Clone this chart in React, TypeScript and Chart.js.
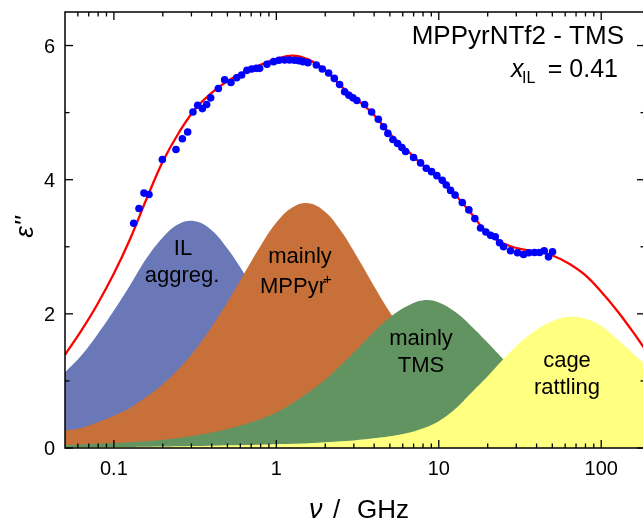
import React, { useEffect, useRef } from 'react';
import { Chart, registerables } from 'chart.js';

Chart.register(...registerables);

// Frequency grid (GHz) for the fitted band curves
const bandFreq = [0.05, 0.063, 0.079, 0.1, 0.126, 0.158, 0.2, 0.251, 0.316, 0.398, 0.501, 0.631, 0.794, 1, 1.26, 1.58, 2, 2.51, 3.16, 3.98, 5.01, 6.31, 7.94, 10, 12.6, 15.8, 20, 25.1, 31.6, 39.8, 50.1, 63.1, 79.4, 100, 126, 158, 186];

// "IL aggreg." band
const ilAggreg = [1.13, 1.38, 1.69, 2.05, 2.43, 2.82, 3.14, 3.34, 3.38, 3.25, 2.97, 2.61, 2.22, 1.85, 1.52, 1.23, 0.99, 0.79, 0.63, 0.5, 0.4, 0.32, 0.25, 0.2, 0.16, 0.13, 0.1, 0.08, 0.063, 0.05, 0.04, 0.032, 0.025, 0.02, 0.016, 0.013, 0.011];
// "mainly MPPyr+" band
const mppyr = [0.26, 0.3, 0.38, 0.48, 0.6, 0.76, 0.95, 1.18, 1.46, 1.8, 2.18, 2.59, 3.0, 3.36, 3.59, 3.65, 3.52, 3.23, 2.84, 2.42, 2.02, 1.66, 1.35, 1.08, 0.86, 0.69, 0.55, 0.44, 0.35, 0.28, 0.22, 0.175, 0.14, 0.11, 0.088, 0.07, 0.06];
// "mainly TMS" band
const tms = [0.045, 0.053, 0.062, 0.073, 0.086, 0.102, 0.123, 0.15, 0.185, 0.23, 0.285, 0.35, 0.43, 0.53, 0.67, 0.83, 1.02, 1.24, 1.48, 1.73, 1.95, 2.11, 2.2, 2.17, 2.03, 1.82, 1.57, 1.32, 1.09, 0.89, 0.71, 0.57, 0.46, 0.37, 0.29, 0.23, 0.2];
// "cage rattling" band
const cage = [0.01, 0.01, 0.012, 0.014, 0.016, 0.019, 0.022, 0.026, 0.03, 0.035, 0.04, 0.045, 0.05, 0.056, 0.063, 0.072, 0.085, 0.1, 0.12, 0.145, 0.175, 0.22, 0.29, 0.4, 0.58, 0.82, 1.07, 1.33, 1.57, 1.76, 1.89, 1.955, 1.93, 1.82, 1.62, 1.4, 1.25];
// total fit
const fitEps = [1.39, 1.75, 2.14, 2.6, 3.12, 3.7, 4.27, 4.7, 5.05, 5.29, 5.47, 5.6, 5.71, 5.8, 5.85, 5.79, 5.63, 5.39, 5.19, 4.97, 4.68, 4.45, 4.22, 4.02, 3.78, 3.5, 3.2, 3.05, 2.97, 2.93, 2.87, 2.75, 2.58, 2.33, 2.04, 1.72, 1.47];

// measured points
const dataFreq = [0.1324, 0.1427, 0.1532, 0.1644, 0.1988, 0.2411, 0.2639, 0.2845, 0.3067, 0.3279, 0.3504, 0.3725, 0.3942, 0.4395, 0.4806, 0.5256, 0.5696, 0.6114, 0.6593, 0.7047, 0.7532, 0.7892, 0.8752, 0.9625, 1.0375, 1.125, 1.207, 1.296, 1.377, 1.458, 1.565, 1.763, 1.919, 2.098, 2.275, 2.452, 2.633, 2.798, 2.961, 3.133, 3.494, 3.859, 4.244, 4.574, 4.861, 5.219, 5.579, 5.93, 6.249, 6.997, 7.727, 8.377, 9.031, 9.734, 10.51, 11.12, 11.82, 12.6, 13.95, 15.32, 16.68, 18.08, 19.49, 20.84, 22.27, 23.67, 25.05, 27.66, 30.54, 33.25, 35.85, 38.86, 41.72, 44.59, 47.39, 50.15];
const dataEps = [3.35, 3.57, 3.8, 3.78, 4.3, 4.45, 4.61, 4.71, 5.01, 5.11, 5.06, 5.12, 5.22, 5.36, 5.49, 5.45, 5.52, 5.56, 5.63, 5.65, 5.66, 5.66, 5.72, 5.76, 5.78, 5.785, 5.785, 5.78, 5.775, 5.76, 5.745, 5.71, 5.65, 5.59, 5.51, 5.42, 5.31, 5.26, 5.22, 5.18, 5.12, 5.01, 4.9, 4.79, 4.69, 4.6, 4.54, 4.48, 4.42, 4.33, 4.25, 4.17, 4.12, 4.06, 3.99, 3.92, 3.84, 3.77, 3.66, 3.55, 3.42, 3.28, 3.22, 3.17, 3.15, 3.06, 3.0, 2.94, 2.91, 2.885, 2.91, 2.915, 2.915, 2.94, 2.85, 2.925];

const xMajorTicks = [0.1, 1, 10, 100];
const xTickLabels = ['0.1', '1', '10', '100'];
const xMinorTicks = [0.06, 0.07, 0.08, 0.09, 0.2, 0.3, 0.4, 0.5, 0.6, 0.7, 0.8, 0.9, 2, 3, 4, 5, 6, 7, 8, 9, 20, 30, 40, 50, 60, 70, 80, 90];
const yMajorTicks = [0, 2, 4, 6];
const yTickLabels = ['0', '2', '4', '6'];
const yMinorTicks = [1, 3, 5];

const FONT = "'Liberation Sans', Arial, Helvetica, sans-serif";

const toPts = (xs: number[], ys: number[]) => xs.map((x, i) => ({ x, y: ys[i] }));

const decorPlugin = {
  id: 'decor',
  afterDraw(chart: any) {
    const { ctx, chartArea: a, scales } = chart;
    const xs = scales.x;
    const ys = scales.y;
    ctx.save();
    ctx.strokeStyle = '#000';
    ctx.lineWidth = 1.5;
    ctx.strokeRect(a.left, a.top, a.right - a.left, a.bottom - a.top);
    ctx.lineWidth = 1.3;
    const seg = (x1: number, y1: number, x2: number, y2: number) => {
      ctx.beginPath();
      ctx.moveTo(x1, y1);
      ctx.lineTo(x2, y2);
      ctx.stroke();
    };
    xMajorTicks.forEach((v) => {
      const x = xs.getPixelForValue(v);
      seg(x, a.bottom, x, a.bottom - 8);
      seg(x, a.top, x, a.top + 8);
    });
    xMinorTicks.forEach((v) => {
      const x = xs.getPixelForValue(v);
      seg(x, a.bottom, x, a.bottom - 4.5);
      seg(x, a.top, x, a.top + 4.5);
    });
    yMajorTicks.forEach((v) => {
      const y = ys.getPixelForValue(v);
      seg(a.left, y, a.left + 8, y);
      seg(a.right, y, a.right - 8, y);
    });
    yMinorTicks.forEach((v) => {
      const y = ys.getPixelForValue(v);
      seg(a.left, y, a.left + 4.5, y);
      seg(a.right, y, a.right - 4.5, y);
    });

    ctx.fillStyle = '#000';
    ctx.font = `20px ${FONT}`;
    ctx.textAlign = 'center';
    ctx.textBaseline = 'alphabetic';
    xMajorTicks.forEach((v, i) => {
      ctx.fillText(xTickLabels[i], xs.getPixelForValue(v), 475);
    });
    ctx.textAlign = 'right';
    yMajorTicks.forEach((v, i) => {
      ctx.fillText(yTickLabels[i], 55, ys.getPixelForValue(v) + 7);
    });

    // axis titles
    ctx.textAlign = 'left';
    ctx.font = `italic 27px ${FONT}`;
    ctx.fillText('\u03bd', 309, 518);
    ctx.font = `26px ${FONT}`;
    ctx.fillText('/', 333, 518);
    ctx.fillText('GHz', 357, 518);

    ctx.save();
    ctx.translate(33, 227);
    ctx.rotate(-Math.PI / 2);
    ctx.textAlign = 'center';
    ctx.font = `italic 26px ${FONT}`;
    ctx.fillText("\u03b5''", 0, 0);
    ctx.restore();

    // header text
    ctx.font = `26px ${FONT}`;
    ctx.textAlign = 'right';
    ctx.fillText('MPPyrNTf2 - TMS', 624, 44);
    ctx.font = `25px ${FONT}`;
    ctx.fillText('= 0.41', 618, 77);
    ctx.textAlign = 'left';
    ctx.font = `italic 25px ${FONT}`;
    ctx.fillText('x', 511, 77);
    ctx.font = `16px ${FONT}`;
    ctx.fillText('IL', 522, 83);

    // band annotations
    ctx.font = `22px ${FONT}`;
    ctx.textAlign = 'center';
    ctx.fillText('IL', 183, 255);
    ctx.fillText('aggreg.', 182, 282);
    ctx.fillText('mainly', 300, 263);
    ctx.fillText('MPPyr', 293, 293);
    ctx.font = `15px ${FONT}`;
    ctx.textAlign = 'left';
    ctx.fillText('+', 323, 284);
    ctx.font = `22px ${FONT}`;
    ctx.textAlign = 'center';
    ctx.fillText('mainly', 421, 345);
    ctx.fillText('TMS', 421, 372);
    ctx.fillText('cage', 567, 367);
    ctx.fillText('rattling', 567, 394);
    ctx.restore();
  },
};

const bandStyle = {
  borderWidth: 0,
  borderColor: 'rgba(0,0,0,0)',
  pointRadius: 0,
  tension: 0.4,
  fill: 'origin',
};

export default function App() {
  const ref = useRef<HTMLCanvasElement | null>(null);
  useEffect(() => {
    document.body.style.overflow = 'hidden';
    const canvas = ref.current;
    if (!canvas) return;
    const chart = new Chart(canvas, {
      type: 'line',
      data: {
        datasets: [
          {
            label: 'data',
            data: toPts(dataFreq, dataEps),
            showLine: false,
            pointRadius: 3.8,
            pointBackgroundColor: '#0000ff',
            pointBorderWidth: 0,
            borderColor: '#0000ff',
            order: 0,
          },
          {
            label: 'fit',
            data: toPts(bandFreq, fitEps),
            borderColor: '#ff0000',
            borderWidth: 2.3,
            pointRadius: 0,
            tension: 0.4,
            fill: false,
            order: 1,
          },
          {
            ...bandStyle,
            label: 'cage rattling',
            data: toPts(bandFreq, cage),
            backgroundColor: '#ffff80',
            order: 2,
          },
          {
            ...bandStyle,
            label: 'mainly TMS',
            data: toPts(bandFreq, tms),
            backgroundColor: '#629462',
            order: 3,
          },
          {
            ...bandStyle,
            label: 'mainly MPPyr+',
            data: toPts(bandFreq, mppyr),
            backgroundColor: '#c8703a',
            order: 4,
          },
          {
            ...bandStyle,
            label: 'IL aggreg.',
            data: toPts(bandFreq, ilAggreg),
            backgroundColor: '#6b78b8',
            order: 5,
          },
        ],
      },
      options: {
        responsive: false,
        animation: false,
        devicePixelRatio: 1,
        layout: { padding: { left: 65, right: 15, top: 12, bottom: 71 } },
        scales: {
          x: { type: 'logarithmic', min: 0.05, max: 186, display: false },
          y: { type: 'linear', min: 0, max: 6.5, display: false },
        },
        plugins: {
          legend: { display: false },
          tooltip: { enabled: false },
        },
      },
      plugins: [decorPlugin],
    } as any);
    return () => chart.destroy();
  }, []);
  return (
    <canvas
      ref={ref}
      width={660}
      height={519}
      style={{ position: 'fixed', left: 0, top: 0 }}
    />
  );
}
